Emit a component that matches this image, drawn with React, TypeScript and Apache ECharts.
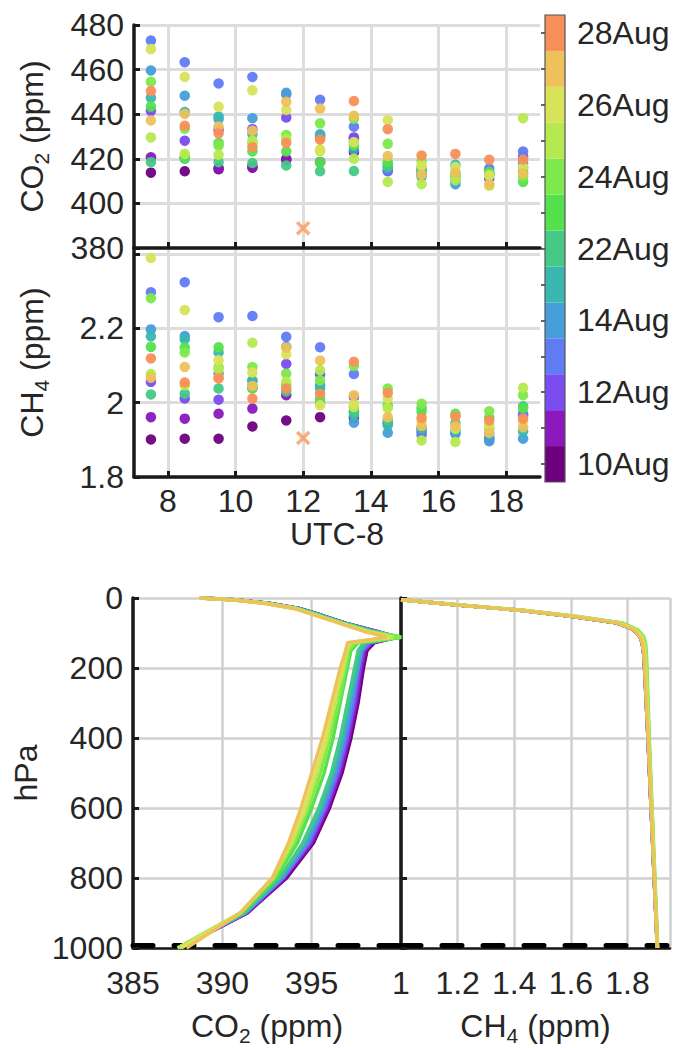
import React, { useEffect, useRef } from 'react';
import * as echarts from 'echarts';

// ---------------- data ----------------
const hours = [7.5, 8.5, 9.5, 10.5, 11.5, 12.5, 13.5, 14.5, 15.5, 16.5, 17.5, 18.5];
const hourTicks = [8, 10, 12, 14, 16, 18];
const dates = ['10Aug', '11Aug', '12Aug', '13Aug', '14Aug', '15Aug', '22Aug', '23Aug', '24Aug', '25Aug', '26Aug', '27Aug', '28Aug'];
const dateColors = ['#6e0080', '#8a18bd', '#7b4cf0', '#607cf5', '#479ed8', '#39b8b0', '#45c985', '#55e04e', '#7ee84c', '#b6e94f', '#d9e35a', '#eec15a', '#f98f58'];

// CO2 (ppm) observed, per date, at each hour (null = no flight)
const co2_10Aug = [413.8, 414.4, 415.3, 416.0, 419.5, 418.5, 423.0, null, null, null, null, null];
const co2_11Aug = [420.7, 420.5, 415.9, 416.6, 420.0, null, 428.9, null, null, null, null, null];
const co2_12Aug = [441.5, 428.1, 433.0, 433.3, 438.5, 430.0, 429.6, 414.4, 413.0, null, 411.1, 421.0];
const co2_13Aug = [473.0, 463.3, 453.8, 456.7, 448.9, 446.5, 434.4, 414.8, 415.0, 410.0, 415.6, 423.3];
const co2_14Aug = [459.6, 448.3, 437.8, 438.2, 449.6, 431.0, 424.0, 416.0, 414.0, 408.6, 413.0, 418.0];
const co2_15Aug = [447.3, 441.0, 439.0, 431.1, null, 430.4, 427.5, 417.8, 412.0, 417.3, 413.0, 416.0];
const co2_22Aug = [418.5, 420.0, 418.5, 418.1, 417.0, 414.4, 414.5, 416.5, 414.5, 413.0, 413.5, 414.0];
const co2_23Aug = [443.4, 420.5, 427.1, 423.3, 423.3, 418.4, 426.0, 418.5, 416.0, 412.0, 414.1, 409.6];
const co2_24Aug = [454.5, 433.5, 425.9, 427.1, 430.7, 435.9, 438.0, 426.7, 419.0, 414.0, 412.5, 412.0];
const co2_25Aug = [429.6, 422.2, 421.8, 428.1, 428.9, 423.4, 420.0, 409.6, 408.6, 410.4, 407.9, 438.2];
const co2_26Aug = [469.2, 456.7, 443.3, 450.7, 441.9, 424.1, 427.4, 437.3, 417.0, 416.3, 412.6, 416.3];
const co2_27Aug = [437.2, 440.1, 434.5, 432.6, 445.6, 442.5, 439.3, 421.2, 412.9, 413.8, 408.6, 413.3];
const co2_28Aug = [450.4, 434.8, 431.4, 425.2, 427.1, 428.6, 445.9, 433.3, 421.5, 422.2, 419.6, 419.7];
const co2Obs = [co2_10Aug, co2_11Aug, co2_12Aug, co2_13Aug, co2_14Aug, co2_15Aug, co2_22Aug, co2_23Aug, co2_24Aug, co2_25Aug, co2_26Aug, co2_27Aug, co2_28Aug];

// CH4 (ppm) observed
const ch4_10Aug = [1.901, 1.903, 1.903, 1.936, 1.952, 1.961, 1.960, null, null, null, null, null];
const ch4_11Aug = [1.961, 1.957, 1.970, 1.984, 2.020, null, 1.975, null, null, null, null, null];
const ch4_12Aug = [2.056, 2.011, 2.008, 2.040, 2.104, 2.076, 2.015, 1.945, 1.921, null, 1.901, 1.966];
const ch4_13Aug = [2.297, 2.324, 2.230, 2.233, 2.177, 2.149, 2.077, 1.945, 1.912, 1.916, 1.905, 1.970];
const ch4_14Aug = [2.197, 2.179, 2.078, 2.058, 2.150, 2.047, 1.946, 1.919, 1.930, 1.920, 1.896, 1.903];
const ch4_15Aug = [2.178, 2.170, 2.135, 2.060, null, 2.038, 1.966, 1.939, 1.930, 1.925, 1.915, 1.923];
const ch4_22Aug = [2.022, 2.024, 2.038, 2.045, 2.030, 2.000, 1.975, 1.952, 1.985, 1.945, 1.930, 1.990];
const ch4_23Aug = [2.150, 2.148, 2.149, 2.038, 2.047, 2.011, 1.990, 1.993, 1.975, 1.970, 1.960, 1.985];
const ch4_24Aug = [2.281, 2.135, 2.095, 2.096, 2.078, 2.060, 2.099, 2.038, 1.997, 1.965, 1.977, 2.020];
const ch4_25Aug = [2.077, 2.047, 2.090, 2.161, 2.056, 2.087, 1.988, 1.985, 1.898, 1.894, 1.940, 2.040];
const ch4_26Aug = [2.389, 2.249, 2.114, 2.081, 2.130, 1.993, 1.997, 2.011, 1.950, 1.930, 1.934, 1.950];
const ch4_27Aug = [2.067, 2.096, 2.067, 2.045, 2.148, 2.113, 2.020, 1.961, 1.937, 1.937, 1.919, 1.934];
const ch4_28Aug = [2.119, 2.054, 2.065, 2.011, 2.038, 2.024, 2.110, 2.026, 1.959, 1.963, 1.952, 1.957];
const ch4Obs = [ch4_10Aug, ch4_11Aug, ch4_12Aug, ch4_13Aug, ch4_14Aug, ch4_15Aug, ch4_22Aug, ch4_23Aug, ch4_24Aug, ch4_25Aug, ch4_26Aug, ch4_27Aug, ch4_28Aug];

// background (marked with x)
const co2Background = [[12, 388.9]];
const ch4Background = [[12, 1.905]];

// model profiles (pressure levels in hPa)
const co2Levels = [0, 5, 15, 30, 50, 75, 95, 112, 128, 150, 200, 300, 400, 500, 600, 700, 800, 900, 1000];
const co2Prof_10Aug = [388.9, 390.7, 392.6, 394.3, 395.6, 397.1, 398.6, 399.8, 398.5, 398.1, 397.9, 397.6, 397.2, 396.7, 396.0, 395.1, 393.6, 391.4, 387.6];
const co2Prof_11Aug = [388.9, 390.7, 392.6, 394.3, 395.6, 397.1, 398.6, 399.8, 398.4, 398.0, 397.8, 397.5, 397.1, 396.6, 395.9, 395.0, 393.5, 391.4, 387.6];
const co2Prof_12Aug = [388.9, 390.7, 392.6, 394.3, 395.6, 397.1, 398.5, 399.8, 398.3, 397.9, 397.7, 397.4, 397.0, 396.5, 395.8, 394.9, 393.4, 391.3, 387.6];
const co2Prof_13Aug = [388.9, 390.7, 392.6, 394.3, 395.6, 397.1, 398.5, 399.9, 398.2, 397.8, 397.6, 397.3, 396.9, 396.4, 395.7, 394.8, 393.4, 391.3, 387.6];
const co2Prof_14Aug = [388.8, 390.6, 392.5, 394.2, 395.5, 397.0, 398.4, 399.9, 398.1, 397.8, 397.6, 397.2, 396.8, 396.3, 395.6, 394.7, 393.3, 391.3, 387.6];
const co2Prof_15Aug = [388.8, 390.6, 392.5, 394.2, 395.5, 397.0, 398.4, 400.0, 398.0, 397.7, 397.5, 397.1, 396.7, 396.2, 395.5, 394.6, 393.2, 391.2, 387.6];
const co2Prof_22Aug = [388.8, 390.6, 392.5, 394.2, 395.5, 397.0, 398.3, 400.0, 397.9, 397.6, 397.4, 397.0, 396.6, 396.1, 395.4, 394.5, 393.2, 391.2, 387.6];
const co2Prof_23Aug = [388.8, 390.6, 392.5, 394.2, 395.4, 396.9, 398.3, 400.0, 397.6, 397.2, 397.0, 396.6, 396.2, 395.7, 395.0, 394.2, 393.0, 391.1, 387.5];
const co2Prof_24Aug = [388.7, 390.6, 392.4, 394.1, 395.4, 396.9, 398.2, 400.0, 397.4, 397.1, 396.9, 396.5, 396.0, 395.5, 394.8, 394.0, 392.9, 391.0, 387.5];
const co2Prof_25Aug = [388.7, 390.6, 392.4, 394.1, 395.3, 396.8, 398.1, 399.6, 397.2, 397.0, 396.8, 396.3, 395.9, 395.3, 394.7, 393.9, 392.8, 391.0, 387.5];
const co2Prof_26Aug = [388.7, 390.6, 392.4, 394.1, 395.3, 396.8, 398.0, 399.4, 397.1, 396.9, 396.7, 396.2, 395.8, 395.2, 394.6, 393.8, 392.8, 391.0, 387.7];
const co2Prof_27Aug = [388.7, 390.5, 392.3, 394.0, 395.2, 396.7, 397.9, 399.2, 397.0, 396.9, 396.6, 396.1, 395.6, 395.0, 394.4, 393.7, 392.8, 391.0, 388.0];
const co2Profiles = [co2Prof_10Aug, co2Prof_11Aug, co2Prof_12Aug, co2Prof_13Aug, co2Prof_14Aug, co2Prof_15Aug, co2Prof_22Aug, co2Prof_23Aug, co2Prof_24Aug, co2Prof_25Aug, co2Prof_26Aug, co2Prof_27Aug];

const ch4Levels = [5, 20, 35, 52, 71, 90, 110, 130, 160, 200, 400, 600, 800, 1000];
const ch4Prof_10Aug = [1.00, 1.20, 1.42, 1.60, 1.76, 1.820, 1.843, 1.852, 1.857, 1.860, 1.872, 1.883, 1.894, 1.905];
const ch4Prof_11Aug = [1.00, 1.20, 1.42, 1.60, 1.76, 1.820, 1.843, 1.852, 1.857, 1.860, 1.872, 1.883, 1.894, 1.905];
const ch4Prof_12Aug = [1.00, 1.20, 1.42, 1.60, 1.76, 1.821, 1.843, 1.852, 1.857, 1.860, 1.872, 1.883, 1.894, 1.905];
const ch4Prof_13Aug = [1.00, 1.20, 1.42, 1.60, 1.76, 1.821, 1.844, 1.852, 1.857, 1.861, 1.872, 1.883, 1.894, 1.905];
const ch4Prof_14Aug = [1.00, 1.20, 1.42, 1.60, 1.76, 1.822, 1.844, 1.853, 1.858, 1.861, 1.873, 1.884, 1.895, 1.906];
const ch4Prof_15Aug = [1.00, 1.20, 1.42, 1.60, 1.76, 1.823, 1.845, 1.854, 1.859, 1.862, 1.873, 1.884, 1.895, 1.906];
const ch4Prof_22Aug = [1.00, 1.20, 1.42, 1.61, 1.77, 1.826, 1.848, 1.856, 1.860, 1.863, 1.874, 1.885, 1.895, 1.906];
const ch4Prof_23Aug = [1.00, 1.20, 1.43, 1.61, 1.78, 1.832, 1.854, 1.861, 1.865, 1.867, 1.876, 1.886, 1.896, 1.906];
const ch4Prof_24Aug = [1.00, 1.21, 1.43, 1.62, 1.78, 1.835, 1.857, 1.864, 1.867, 1.869, 1.877, 1.887, 1.897, 1.907];
const ch4Prof_25Aug = [1.00, 1.21, 1.43, 1.61, 1.77, 1.830, 1.852, 1.860, 1.864, 1.866, 1.875, 1.886, 1.896, 1.906];
const ch4Prof_26Aug = [1.00, 1.20, 1.42, 1.61, 1.77, 1.825, 1.848, 1.856, 1.860, 1.863, 1.874, 1.884, 1.895, 1.905];
const ch4Prof_27Aug = [1.00, 1.20, 1.42, 1.60, 1.76, 1.820, 1.843, 1.852, 1.857, 1.860, 1.872, 1.883, 1.894, 1.905];
const ch4Profiles = [ch4Prof_10Aug, ch4Prof_11Aug, ch4Prof_12Aug, ch4Prof_13Aug, ch4Prof_14Aug, ch4Prof_15Aug, ch4Prof_22Aug, ch4Prof_23Aug, ch4Prof_24Aug, ch4Prof_25Aug, ch4Prof_26Aug, ch4Prof_27Aug];

// ---------------- styling ----------------
const FONT = '"Liberation Sans", Arial, Helvetica, sans-serif';
const TXT = '#262626';
const FS = 32;
const GRIDC = '#dddddd';
const GRIDC2 = '#d0d0d0';

const labelStyle = { fontFamily: FONT, fontSize: FS, color: TXT };

const plainName = { fontFamily: FONT, fontSize: FS, color: TXT };
const subName = {
  fontFamily: FONT,
  fontSize: FS,
  color: TXT,
  lineHeight: 40,
  rich: {
    n: { fontFamily: FONT, fontSize: FS, color: TXT, lineHeight: 40 },
    s: { fontFamily: FONT, fontSize: 21, color: TXT, lineHeight: 40, padding: [18, 0, 0, 0] },
  },
};

const axisLineBlack = (w: number) => ({ show: true, onZero: false, lineStyle: { color: '#1a1a1a', width: w } });
const tickInside = (len: number) => ({ show: true, inside: true, length: len, lineStyle: { color: '#1a1a1a', width: 3 } });

export default function App() {
  const ref = useRef<HTMLDivElement>(null);

  useEffect(() => {
    if (!ref.current) return;
    const chart = echarts.init(ref.current, undefined, { renderer: 'svg' });

    const series: any[] = [];

    dates.forEach((d, i) => {
      const c = dateColors[i];
      series.push({
        type: 'scatter',
        name: 'CO2 ' + d,
        xAxisIndex: 0,
        yAxisIndex: 0,
        symbolSize: 10.5,
        itemStyle: { color: c, opacity: 0.95 },
        data: hours.map((h, k) => (co2Obs[i][k] == null ? null : [h, co2Obs[i][k]])).filter((v) => v),
      });
      series.push({
        type: 'scatter',
        name: 'CH4 ' + d,
        xAxisIndex: 1,
        yAxisIndex: 1,
        symbolSize: 10.5,
        itemStyle: { color: c, opacity: 0.95 },
        data: hours.map((h, k) => (ch4Obs[i][k] == null ? null : [h, ch4Obs[i][k]])).filter((v) => v),
      });
    });

    const crossSymbol = 'path://M0,0L10,10M10,0L0,10';
    [[0, co2Background], [1, ch4Background]].forEach(([idx, dat]: any) => {
      series.push({
        type: 'scatter',
        xAxisIndex: idx,
        yAxisIndex: idx,
        symbol: crossSymbol,
        symbolSize: 12,
        itemStyle: { color: 'transparent', borderColor: '#f79a5c', borderWidth: 3.5 },
        data: dat,
        z: 5,
      });
    });

    // colorbar
    series.push({
      type: 'bar',
      xAxisIndex: 2,
      yAxisIndex: 2,
      barWidth: '100%',
      barCategoryGap: '0%',
      silent: true,
      data: dates.map((d, i) => ({ value: 1, itemStyle: { color: dateColors[i] } })),
    });

    co2Profiles.forEach((prof, i) => {
      series.push({
        type: 'line',
        xAxisIndex: 3,
        yAxisIndex: 3,
        showSymbol: false,
        symbol: 'none',
        lineStyle: { color: dateColors[i], width: 3.4 },
        data: co2Levels.map((p, k) => [prof[k], p]),
      });
    });
    ch4Profiles.forEach((prof, i) => {
      series.push({
        type: 'line',
        xAxisIndex: 4,
        yAxisIndex: 4,
        showSymbol: false,
        symbol: 'none',
        lineStyle: { color: dateColors[i], width: 3.4 },
        data: ch4Levels.map((p, k) => [prof[k], p]),
      });
    });

    const option: any = {
      animation: false,
      backgroundColor: '#ffffff',
      grid: [
        { left: 134, top: 25, width: 406, height: 223 },
        { left: 134, top: 248, width: 406, height: 229 },
        { left: 545, top: 15, width: 20, height: 467 },
        { left: 133, top: 598, width: 268, height: 350 },
        { left: 401, top: 598, width: 269, height: 350 },
      ],
      xAxis: [
        {
          gridIndex: 0, type: 'value', min: 7, max: 19,
          axisLine: axisLineBlack(3.5),
          axisTick: { ...tickInside(6), customValues: hourTicks },
          axisLabel: { show: false, customValues: hourTicks },
          splitLine: { show: true, lineStyle: { color: GRIDC, width: 3 } },
        },
        {
          gridIndex: 1, type: 'value', min: 7, max: 19,
          axisLine: axisLineBlack(3.5),
          axisTick: { ...tickInside(6), customValues: hourTicks },
          axisLabel: { ...labelStyle, margin: 8, customValues: hourTicks },
          splitLine: { show: true, lineStyle: { color: GRIDC, width: 3 } },
          name: 'UTC-8', nameLocation: 'middle', nameGap: 41, nameMoveOverlap: false,
          nameTextStyle: plainName,
        },
        { gridIndex: 2, type: 'value', min: 0, max: 1, show: false },
        {
          gridIndex: 3, type: 'value', min: 385, max: 400, interval: 5,
          axisLine: axisLineBlack(2.5),
          axisTick: { show: false },
          axisLabel: { ...labelStyle, margin: 19, formatter: (v: number) => (v >= 399.9 ? '' : String(v)) },
          splitLine: { show: true, lineStyle: { color: GRIDC2, width: 2.5 } },
          name: '{n|CO}{s|2}{n| (ppm)}', nameLocation: 'middle', nameGap: 58, nameMoveOverlap: false,
          nameTextStyle: subName,
        },
        {
          gridIndex: 4, type: 'value', min: 1, max: 1.95, interval: 0.2,
          axisLine: axisLineBlack(2.5),
          axisTick: { show: false },
          axisLabel: {
            ...labelStyle, margin: 19,
            formatter: (v: number) => (v > 1.85 ? '' : String(Math.round(v * 10) / 10)),
          },
          splitLine: { show: true, lineStyle: { color: GRIDC2, width: 2.5 } },
          name: '{n|CH}{s|4}{n| (ppm)}', nameLocation: 'middle', nameGap: 58, nameMoveOverlap: false,
          nameTextStyle: subName,
        },
        {
          gridIndex: 3, type: 'value', min: 385, max: 400, position: 'bottom', offset: -2.5,
          axisLine: { show: true, onZero: false, lineStyle: { color: '#000', width: 5, type: [20, 21] } },
          axisTick: { show: false }, axisLabel: { show: false }, splitLine: { show: false },
        },
        {
          gridIndex: 4, type: 'value', min: 1, max: 1.95, position: 'bottom', offset: -2.5,
          axisLine: { show: true, onZero: false, lineStyle: { color: '#000', width: 5, type: [20, 21] } },
          axisTick: { show: false }, axisLabel: { show: false }, splitLine: { show: false },
        },
      ],
      yAxis: [
        {
          gridIndex: 0, type: 'value', min: 380, max: 480, interval: 20,
          axisLine: axisLineBlack(3.5),
          axisTick: tickInside(6),
          axisLabel: { ...labelStyle, margin: 10 },
          splitLine: { show: true, lineStyle: { color: GRIDC, width: 3 } },
          name: '{n|CO}{s|2}{n| (ppm)}', nameLocation: 'middle', nameGap: 82, nameMoveOverlap: false,
          nameTextStyle: subName,
        },
        {
          gridIndex: 1, type: 'value', min: 1.8, max: 2.416, interval: 0.2,
          axisLine: axisLineBlack(3.5),
          axisTick: tickInside(6),
          axisLabel: {
            ...labelStyle, margin: 10,
            formatter: (v: number) => {
              const r = Math.round(v * 10) / 10;
              if (r > 2.3) return '';
              return String(r);
            },
          },
          splitLine: { show: true, lineStyle: { color: GRIDC, width: 3 } },
          name: '{n|CH}{s|4}{n| (ppm)}', nameLocation: 'middle', nameGap: 82, nameMoveOverlap: false,
          nameTextStyle: subName,
        },
        {
          gridIndex: 2, type: 'category', data: dates, position: 'right',
          axisLine: { show: false },
          axisTick: { show: true, inside: true, alignWithLabel: true, interval: 0, length: 4, lineStyle: { color: '#333', width: 1.5 } },
          axisLabel: { ...labelStyle, interval: 1, margin: 12 },
          splitLine: { show: false },
        },
        {
          gridIndex: 3, type: 'value', min: 0, max: 1000, interval: 200, inverse: true,
          axisLine: axisLineBlack(3.5),
          axisTick: tickInside(6),
          axisLabel: { ...labelStyle, margin: 10, formatter: (v: number) => String(v) },
          splitLine: { show: true, lineStyle: { color: GRIDC2, width: 2.5 } },
          name: 'hPa', nameLocation: 'middle', nameGap: 91, nameMoveOverlap: false,
          nameTextStyle: plainName,
        },
        {
          gridIndex: 4, type: 'value', min: 0, max: 1000, interval: 200, inverse: true,
          axisLine: axisLineBlack(3.5),
          axisTick: tickInside(6),
          axisLabel: { show: false },
          splitLine: { show: true, lineStyle: { color: GRIDC2, width: 2.5 } },
        },
      ],
      graphic: [
        {
          type: 'rect',
          shape: { x: 545, y: 15, width: 20, height: 467 },
          style: { fill: 'none', stroke: '#555', lineWidth: 1.2 },
          z: 100,
          silent: true,
        },
      ],
      series,
    };

    chart.setOption(option);
    return () => chart.dispose();
  }, []);

  return (
    <div
      ref={ref}
      style={{ position: 'absolute', left: 0, top: 0, width: 673, height: 1048, background: '#fff' }}
    />
  );
}
